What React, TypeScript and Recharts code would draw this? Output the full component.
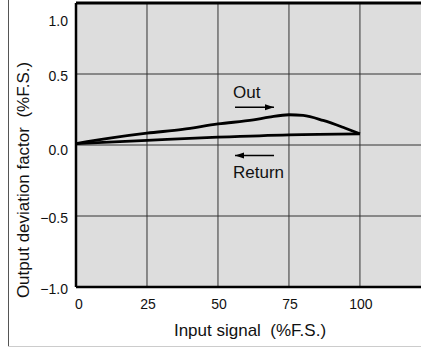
import React from "react";
import {
  LineChart,
  Line,
  XAxis,
  YAxis,
  CartesianGrid,
  ReferenceLine,
  ReferenceDot,
} from "recharts";

// Output deviation vs input signal
const outInput = [0, 12.5, 25, 37.5, 50, 62.5, 68, 75, 80, 87, 94, 100];
const outDeviation = [0.01, 0.05, 0.083, 0.11, 0.148, 0.177, 0.196, 0.213, 0.208, 0.173, 0.125, 0.079];
const returnInput = [100, 75, 50, 25, 0];
const returnDeviation = [0.079, 0.072, 0.055, 0.033, 0.01];

const xTicks = [0, 25, 50, 75, 100];
const yTicks = [-1, -0.5, 0, 0.5, 1];

const outData = outInput.map((x, i) => ({ x, y: outDeviation[i] }));
const returnData = returnInput.map((x, i) => ({ x, y: returnDeviation[i] }));

const font = "'Liberation Sans', Arial, Helvetica, sans-serif";

const YTick = (props: any) => {
  const { x, y, payload } = props;
  const v = payload.value;
  let dy = 7;
  if (v === 1) dy = 17;
  if (v === 0) dy = 10;
  const label = v < 0 ? "\u2212" + Math.abs(v).toFixed(1) : v.toFixed(1);
  return (
    <text x={x} y={y + dy} textAnchor="end" fontSize={14} fill="#111" fontFamily={font}>
      {label}
    </text>
  );
};

const XTick = (props: any) => {
  const { x, y, payload } = props;
  const dx = payload.value === 0 ? 3 : 1;
  return (
    <text x={x + dx} y={y + 14} textAnchor="middle" fontSize={14} fill="#111" fontFamily={font}>
      {payload.value}
    </text>
  );
};

// arrow + caption, anchored at the arrow's left end
const Note = (text: string, dir: "right" | "left", textDy: number) => (props: any) => {
  const { cx, cy } = props;
  const len = 39;
  const head =
    dir === "right"
      ? `M${cx + len},${cy} L${cx + len - 9},${cy - 3} L${cx + len - 9},${cy + 3} Z`
      : `M${cx},${cy} L${cx + 9},${cy - 3} L${cx + 9},${cy + 3} Z`;
  return (
    <g>
      <line x1={cx} y1={cy} x2={cx + len} y2={cy} stroke="#000" strokeWidth={1.3} />
      <path d={head} fill="#000" />
      <text x={cx - 2} y={cy + textDy} fontSize={17} fill="#111" fontFamily={font}>
        {text}
      </text>
    </g>
  );
};

const App: React.FC = () => {
  return (
    <div
      style={{
        position: "absolute",
        left: 0,
        top: 0,
        width: 421,
        height: 347,
        overflow: "hidden",
        background: "#fff",
      }}
    >
      <div style={{ position: "absolute", left: 8, top: 0, width: 1, height: 347, background: "#555" }} />
      <div style={{ position: "absolute", left: 8, top: 346, width: 413, height: 1, background: "#ccc" }} />
      <LineChart
        width={421}
        height={347}
        margin={{ top: 3, right: 0, left: 0, bottom: 0 }}
        style={{ position: "absolute", left: 0, top: 0 }}
      >
        <CartesianGrid
          fill="#dddddd"
          stroke="#333"
          strokeWidth={1}
          vertical={false}
          horizontalValues={[-0.5, 0, 0.5]}
        />
        {xTicks.slice(1).map((t) => (
          <ReferenceLine key={t} x={t} stroke="#333" strokeWidth={1} />
        ))}
        <XAxis
          type="number"
          dataKey="x"
          domain={[0, 121.5]}
          ticks={xTicks}
          tick={<XTick />}
          tickLine={false}
          axisLine={{ stroke: "#000", strokeWidth: 2.5 }}
          height={60}
          label={{
            content: () => (
              <text x={250} y={336} textAnchor="middle" fontSize={17} fill="#111" fontFamily={font}>
                {"Input signal\u00a0 (%F.S.)"}
              </text>
            ),
          }}
        />
        <YAxis
          type="number"
          dataKey="y"
          domain={[-1, 1]}
          ticks={yTicks}
          tick={<YTick />}
          tickLine={false}
          axisLine={{ stroke: "#000", strokeWidth: 2.5 }}
          width={76}
          label={{
            content: () => (
              <text
                x={29}
                y={180}
                transform="rotate(-90 29 180)"
                textAnchor="middle"
                fontSize={17}
                fill="#111"
                fontFamily={font}
              >
                {"Output deviation factor\u00a0 (%F.S.)"}
              </text>
            ),
          }}
        />
        <ReferenceLine y={1} stroke="#000" strokeWidth={3} />
        <Line
          data={outData}
          dataKey="y"
          type="monotone"
          stroke="#000"
          strokeWidth={2.8}
          dot={false}
          isAnimationActive={false}
        />
        <Line
          data={returnData}
          dataKey="y"
          type="monotone"
          stroke="#000"
          strokeWidth={2.8}
          dot={false}
          isAnimationActive={false}
        />
        <ReferenceDot x={56} y={0.266} r={0} shape={Note("Out", "right", -9)} />
        <ReferenceDot x={56} y={-0.074} r={0} shape={Note("Return", "left", 22)} />
      </LineChart>
    </div>
  );
};

export default App;
